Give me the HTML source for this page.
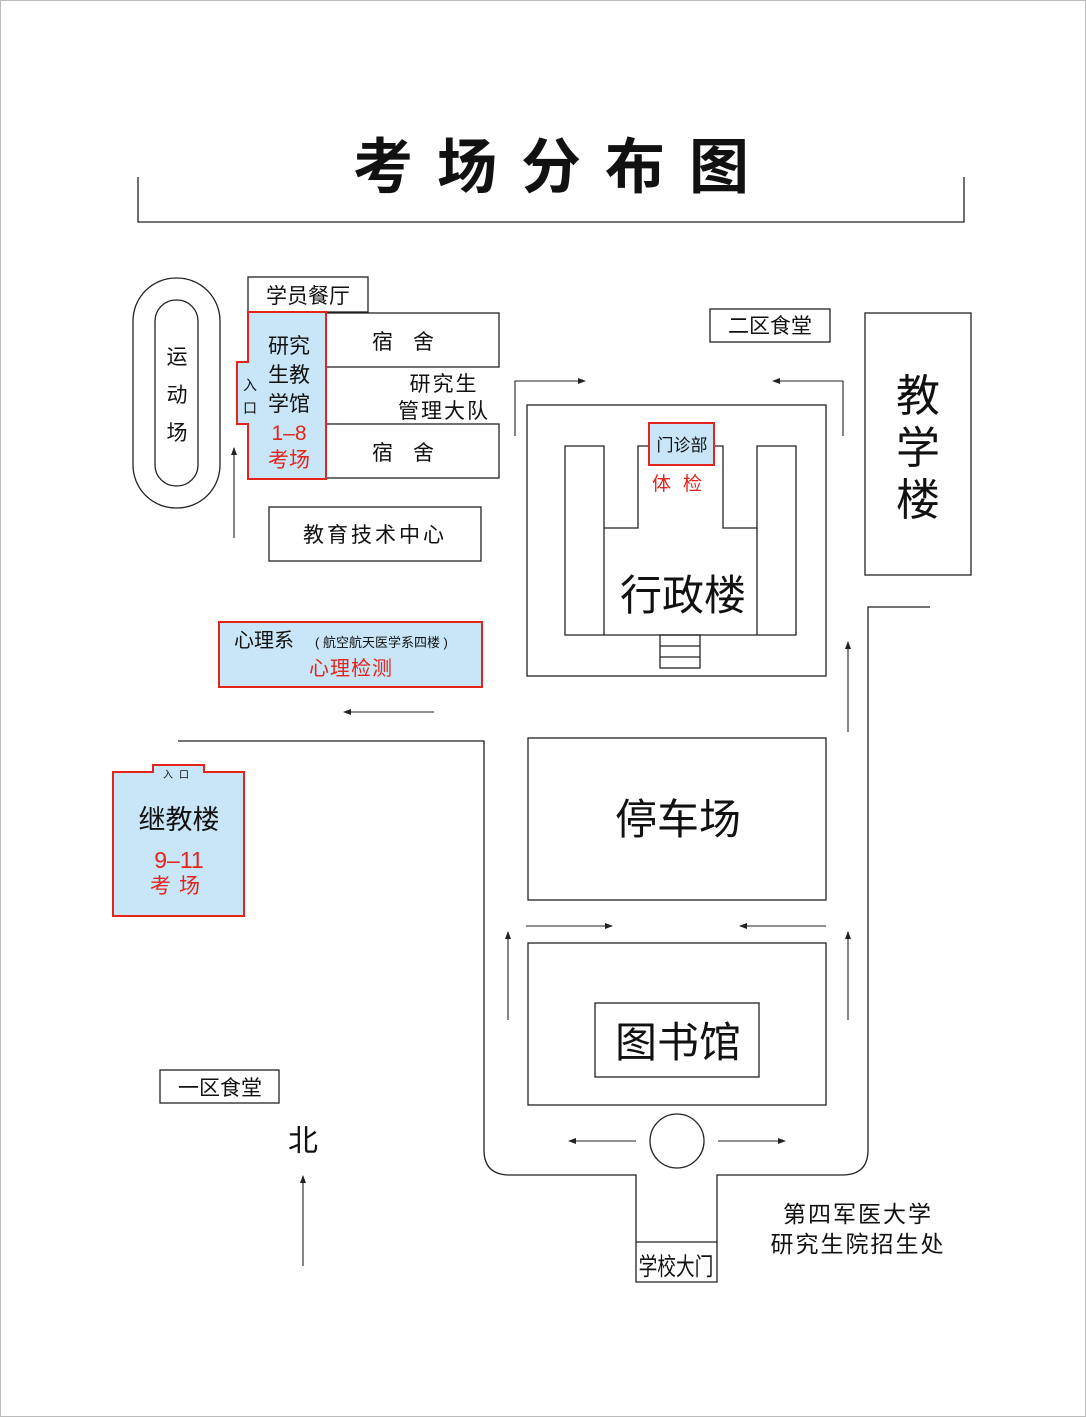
<!DOCTYPE html>
<html><head><meta charset="utf-8"><style>
html,body{margin:0;padding:0;background:#fff}
svg{display:block}
text{font-family:"Liberation Sans","Noto Sans CJK SC",sans-serif;fill:#111}
.r{fill:#e3241b}
</style></head><body>
<svg width="1086" height="1417" viewBox="0 0 1086 1417" xmlns="http://www.w3.org/2000/svg">
<defs>
<marker id="a" markerWidth="8" markerHeight="6" refX="7" refY="3" orient="auto" markerUnits="userSpaceOnUse"><path d="M0,0 L8,3 L0,6 Z" fill="#222"/></marker>
</defs>
<rect x="0.5" y="0.5" width="1085" height="1416" fill="#fff" stroke="#bbb"/>
<g fill="none" stroke="#222" stroke-width="1.3">
<polyline points="138,177 138,222 964,222 964,177"/>
<rect x="133" y="278" width="87" height="230" rx="43" ry="43"/>
<rect x="155" y="300" width="43" height="186" rx="21" ry="21"/>
<rect x="248" y="277" width="120" height="35"/>
<rect x="326" y="313" width="173" height="54"/>
<rect x="326" y="424" width="173" height="54"/>
<rect x="269" y="507" width="212" height="54"/>
<rect x="710" y="309" width="120" height="33"/>
<rect x="865" y="313" width="106" height="262"/>
<rect x="527" y="405" width="299" height="271"/>
<polyline points="649,446 638,446 638,528 604,528 604,446 565,446 565,635 796,635 796,446 757,446 757,528 723,528 723,446 714,446"/>
<line x1="604" y1="528" x2="604" y2="635"/><line x1="757" y1="528" x2="757" y2="635"/>
<rect x="660" y="635" width="40" height="33"/>
<line x1="660" y1="646" x2="700" y2="646"/><line x1="660" y1="657" x2="700" y2="657"/>
<rect x="528" y="738" width="298" height="162"/>
<rect x="528" y="943" width="298" height="162"/>
<rect x="595" y="1003" width="164" height="74"/>
<circle cx="677" cy="1141" r="27"/>
<path d="M178,741 L484,741 L484,1150 Q484,1175 510,1175 L636,1175 L636,1282 L717,1282 L717,1175 L842,1175 Q868,1175 868,1150 L868,607 L930,607"/>
<line x1="636" y1="1242" x2="717" y2="1242"/>
<rect x="160" y="1070" width="119" height="33"/>
</g>
<g stroke="#222" stroke-width="1.1" fill="none" marker-end="url(#a)">
<line x1="234" y1="538" x2="234" y2="448"/>
<polyline points="515,436 515,381 585,381"/>
<polyline points="843,436 843,381 773,381"/>
<line x1="434" y1="712" x2="344" y2="712"/>
<line x1="848" y1="732" x2="848" y2="642"/>
<line x1="526" y1="926" x2="612" y2="926"/>
<line x1="826" y1="926" x2="740" y2="926"/>
<line x1="508" y1="1020" x2="508" y2="932"/>
<line x1="848" y1="1020" x2="848" y2="932"/>
<line x1="636" y1="1141" x2="569" y2="1141"/>
<line x1="718" y1="1141" x2="785" y2="1141"/>
<line x1="303" y1="1266" x2="303" y2="1176"/>
</g>
<path d="M248,312 L326,312 L326,479 L248,479 L248,424 L237,424 L237,362 L248,362 Z" fill="#c8e6f8" stroke="#e3241b" stroke-width="2"/>
<rect x="219" y="622" width="263" height="65" fill="#c8e6f8" stroke="#e3241b" stroke-width="2"/>
<path d="M113,772 L153,772 L153,765 L204,765 L204,772 L244,772 L244,916 L113,916 Z" fill="#c8e6f8" stroke="#e3241b" stroke-width="2"/>
<rect x="649" y="423" width="65" height="42" fill="#c8e6f8" stroke="#e3241b" stroke-width="2"/>
<text x="563" y="188" font-size="60" font-weight="bold" text-anchor="middle" letter-spacing="24">考场分布图</text>
<text x="308" y="303" font-size="21" text-anchor="middle">学员餐厅</text>
<text x="177" y="364" font-size="21" text-anchor="middle">运</text>
<text x="177" y="402" font-size="21" text-anchor="middle">动</text>
<text x="177" y="440" font-size="21" text-anchor="middle">场</text>
<text x="289" y="353" font-size="21" text-anchor="middle">研究</text>
<text x="289" y="382" font-size="21" text-anchor="middle">生教</text>
<text x="289" y="411" font-size="21" text-anchor="middle">学馆</text>
<text x="289" y="440" font-size="21" text-anchor="middle" class="r">1–8</text>
<text x="289" y="467" font-size="21" text-anchor="middle" class="r">考场</text>
<text x="250" y="390" font-size="14" text-anchor="middle">入</text>
<text x="250" y="413" font-size="14" text-anchor="middle">口</text>
<text x="413" y="349" font-size="21" text-anchor="middle" letter-spacing="20">宿舍</text>
<text x="413" y="460" font-size="21" text-anchor="middle" letter-spacing="20">宿舍</text>
<text x="444" y="391" font-size="21" text-anchor="middle" letter-spacing="2">研究生</text>
<text x="444" y="418" font-size="21" text-anchor="middle" letter-spacing="2">管理大队</text>
<text x="375" y="542" font-size="21" text-anchor="middle" letter-spacing="3">教育技术中心</text>
<text x="770" y="333" font-size="21" text-anchor="middle">二区食堂</text>
<text x="918" y="411" font-size="44" text-anchor="middle">教</text>
<text x="918" y="463" font-size="44" text-anchor="middle">学</text>
<text x="918" y="515" font-size="44" text-anchor="middle">楼</text>
<text x="682" y="451" font-size="17" text-anchor="middle">门诊部</text>
<text x="683" y="490" font-size="19" text-anchor="middle" class="r" letter-spacing="12">体检</text>
<text x="683" y="610" font-size="42" text-anchor="middle">行政楼</text>
<text x="234" y="647" font-size="20">心理系</text>
<text x="315" y="647" font-size="13">( 航空航天医学系四楼 )</text>
<text x="351" y="675" font-size="20" text-anchor="middle" class="r" letter-spacing="1">心理检测</text>
<text x="179" y="778" font-size="10" text-anchor="middle" letter-spacing="6">入口</text>
<text x="179" y="829" font-size="27" text-anchor="middle">继教楼</text>
<text x="179" y="868" font-size="23" text-anchor="middle" class="r">9–11</text>
<text x="179" y="893" font-size="21" text-anchor="middle" class="r" letter-spacing="8">考场</text>
<text x="678" y="834" font-size="42" text-anchor="middle">停车场</text>
<text x="678" y="1057" font-size="42" text-anchor="middle">图书馆</text>
<text x="220" y="1095" font-size="21" text-anchor="middle">一区食堂</text>
<text x="303" y="1151" font-size="30" text-anchor="middle">北</text>
<text x="676" y="1275" font-size="22" text-anchor="middle" transform="translate(676,1275) scale(0.85,1.1) translate(-676,-1275)">学校大门</text>
<text x="858" y="1222" font-size="23" text-anchor="middle" letter-spacing="2">第四军医大学</text>
<text x="858" y="1252" font-size="23" text-anchor="middle" letter-spacing="2">研究生院招生处</text>
</svg>
</body></html>
